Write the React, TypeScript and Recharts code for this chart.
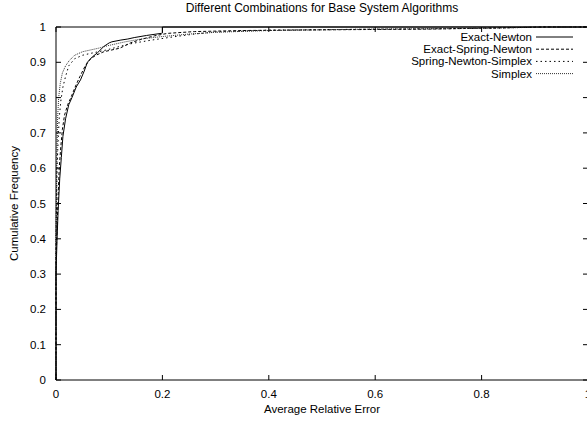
import { LineChart, Line, XAxis, YAxis } from "recharts"

const ticksX = [0, 0.2, 0.4, 0.6, 0.8, 1]
const ticksY = [0, 0.1, 0.2, 0.3, 0.4, 0.5, 0.6, 0.7, 0.8, 0.9, 1]

// cumulative frequency curves
const exactNewtonErr = [0, 0, 0.002, 0.004, 0.007, 0.01, 0.013, 0.018, 0.024, 0.03, 0.038, 0.046, 0.053, 0.059, 0.068, 0.078, 0.09, 0.1, 0.105, 0.122, 0.135, 0.147, 0.17, 0.198, 0.2, 0.2, 1]
const exactNewtonFreq = [0, 0.3, 0.4, 0.48, 0.57, 0.63, 0.69, 0.74, 0.78, 0.8, 0.83, 0.85, 0.875, 0.9, 0.915, 0.927, 0.945, 0.955, 0.958, 0.963, 0.966, 0.97, 0.976, 0.982, 0.983, 1, 1]

const exactSpringErr = [0, 0, 0.002, 0.004, 0.006, 0.009, 0.012, 0.016, 0.022, 0.028, 0.036, 0.045, 0.055, 0.065, 0.075, 0.09, 0.105, 0.12, 0.14, 0.16, 0.185, 0.21, 0.26, 0.35, 0.5, 0.7, 0.92, 1]
const exactSpringFreq = [0, 0.33, 0.43, 0.52, 0.6, 0.66, 0.71, 0.75, 0.78, 0.8, 0.83, 0.86, 0.89, 0.91, 0.92, 0.93, 0.935, 0.94, 0.955, 0.965, 0.975, 0.982, 0.987, 0.99, 0.992, 0.994, 1, 1]

const springSimplexErr = [0, 0, 0.001, 0.002, 0.004, 0.006, 0.009, 0.013, 0.018, 0.024, 0.035, 0.05, 0.064, 0.08, 0.095, 0.12, 0.145, 0.18, 0.22, 0.26, 0.3, 0.4, 0.6, 0.8, 0.92, 1]
const springSimplexFreq = [0, 0.38, 0.5, 0.6, 0.68, 0.74, 0.79, 0.83, 0.86, 0.89, 0.91, 0.92, 0.925, 0.93, 0.935, 0.945, 0.954, 0.963, 0.972, 0.98, 0.986, 0.991, 0.994, 0.996, 1, 1]

const simplexErr = [0, 0, 0.001, 0.002, 0.003, 0.005, 0.008, 0.012, 0.018, 0.025, 0.035, 0.05, 0.065, 0.08, 0.1, 0.13, 0.16, 0.2, 0.25, 0.3, 0.4, 0.6, 0.8, 0.92, 1]
const simplexFreq = [0, 0.4, 0.55, 0.66, 0.74, 0.8, 0.84, 0.87, 0.89, 0.905, 0.92, 0.93, 0.935, 0.94, 0.948, 0.958, 0.966, 0.973, 0.98, 0.985, 0.99, 0.994, 0.996, 1, 1]

const toPoints = (xs: number[], ys: number[]) => xs.map((x, i) => ({ x, y: ys[i] }))

// the last series sits on the top/right axes (same [0,1] domain) so those mirror axes get drawn
const series = [
  { name: "Exact-Newton", data: toPoints(exactNewtonErr, exactNewtonFreq), dash: undefined as string | undefined, color: "#000", xId: "x", yId: "y" },
  { name: "Exact-Spring-Newton", data: toPoints(exactSpringErr, exactSpringFreq), dash: "3 2", color: "#000", xId: "x", yId: "y" },
  { name: "Spring-Newton-Simplex", data: toPoints(springSimplexErr, springSimplexFreq), dash: "1.5 3", color: "#000", xId: "x", yId: "y" },
  { name: "Simplex", data: toPoints(simplexErr, simplexFreq), dash: "1 1", color: "#333", xId: "top", yId: "right" },
]

const font = "'Liberation Sans', Arial, sans-serif"
const fs = 11.5

export default function App() {
  return (
    <div style={{ position: "absolute", left: 0, top: 0, width: 587, height: 421, overflow: "hidden", background: "#fff", fontFamily: font }}>
      <LineChart width={600} height={421} margin={{ top: 27, right: 12, left: 0, bottom: 0 }}>
        <XAxis xAxisId="x" type="number" dataKey="x" domain={[0, 1]} ticks={ticksX} height={41}
          tickSize={-5} tickMargin={15} axisLine={{ stroke: "#000" }} tickLine={{ stroke: "#000" }}
          tick={{ fill: "#000", fontSize: fs }} tickFormatter={(v: number) => String(v)} />
        <XAxis xAxisId="top" type="number" dataKey="x" domain={[0, 1]} ticks={ticksX} orientation="top" mirror
          tickSize={5} axisLine={{ stroke: "#000" }} tickLine={{ stroke: "#000" }} tickFormatter={() => ""} />
        <YAxis yAxisId="y" type="number" dataKey="y" domain={[0, 1]} ticks={ticksY} width={56}
          tickSize={-5} tickMargin={15} axisLine={{ stroke: "#000" }} tickLine={{ stroke: "#000" }}
          tick={{ fill: "#000", fontSize: fs }} tickFormatter={(v: number) => String(v)} />
        <YAxis yAxisId="right" type="number" dataKey="y" domain={[0, 1]} ticks={ticksY} orientation="right" mirror
          tickSize={5} axisLine={{ stroke: "#000" }} tickLine={{ stroke: "#000" }} tickFormatter={() => ""} />
        {series.map((s) => (
          <Line key={s.name} xAxisId={s.xId} yAxisId={s.yId} data={s.data} dataKey="y" type="linear"
            stroke={s.color} strokeWidth={1} strokeDasharray={s.dash} dot={false}
            isAnimationActive={false} />
        ))}
      </LineChart>
      <svg width={587} height={421} style={{ position: "absolute", left: 0, top: 0, pointerEvents: "none" }}>
        <text x={322} y={12} textAnchor="middle" fontSize={12} fill="#000">Different Combinations for Base System Algorithms</text>
        <text x={322} y={413} textAnchor="middle" fontSize={fs} fill="#000">Average Relative Error</text>
        <text x={18} y={203.5} textAnchor="middle" fontSize={fs} fill="#000" transform="rotate(-90 18 203.5)">Cumulative Frequency</text>
        {series.map((s, i) => {
          const y = 37 + i * 12.2
          return (
            <g key={s.name}>
              <text x={532} y={y + 4} textAnchor="end" fontSize={fs} fill="#000">{s.name}</text>
              <line x1={536} x2={573} y1={y} y2={y} stroke={s.color} strokeWidth={1} strokeDasharray={s.dash} />
            </g>
          )
        })}
      </svg>
    </div>
  )
}
